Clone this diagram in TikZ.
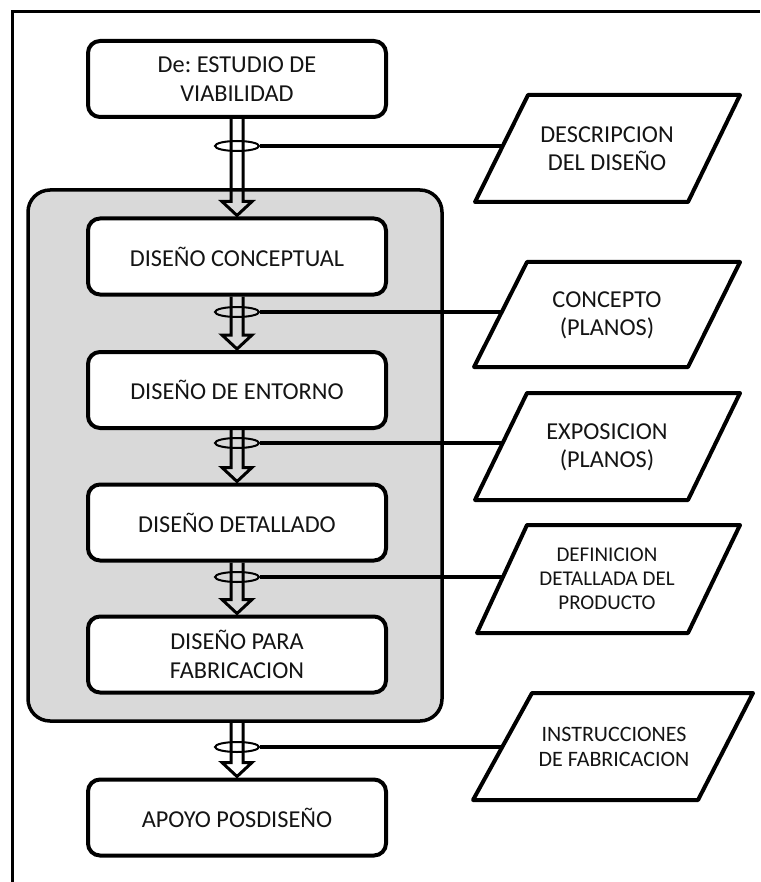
\documentclass[tikz,border=0pt]{standalone}
\usepackage{fontspec}
\setmainfont{Carlito}
\usetikzlibrary{shapes.geometric,calc}
\definecolor{panelgray}{HTML}{D9D9D9}
\definecolor{ink}{HTML}{141414}
\frenchspacing
\begin{document}
\begin{tikzpicture}[x=1pt,y=-1pt,
  box/.style={draw, line width=4pt, rounded corners=12pt, fill=white,
    minimum width=298pt, minimum height=76pt, inner sep=0pt, align=center,
    text=ink, font=\fontsize{24.3}{28.5}\selectfont},
  panelbox/.style={draw, line width=3.5pt, rounded corners=22pt, fill=panelgray,
    minimum width=414pt, minimum height=531pt, inner sep=0pt},
  para/.style={draw, line width=4pt, line join=round, fill=white},
  paratext/.style={align=center, inner sep=0pt, text=ink, font=\fontsize{24.3}{28}\selectfont},
  ring/.style={ellipse, draw, line width=2pt, minimum width=44pt, minimum height=10pt, inner sep=0pt},
  conn/.style={line width=3.5pt},
  harrow/.style={line width=3pt, line join=miter,
    to path={([xshift=-6pt]\tikztostart) -- ([xshift=-6pt,yshift=15pt]\tikztotarget)
      -- ([xshift=-15pt,yshift=15pt]\tikztotarget) -- ([yshift=1pt]\tikztotarget)
      -- ([xshift=15pt,yshift=15pt]\tikztotarget) -- ([xshift=6pt,yshift=15pt]\tikztotarget)
      -- ([xshift=6pt]\tikztostart)}}
]
\useasboundingbox (0,0) rectangle (760,882);
% outer frame
\draw[line width=3pt] (12,882) -- (12,12) -- (760,12);

% panel
\node[panelbox] (panel) at (235,455.5) {};

% boxes
\node[box] (b1) at (237,79) {De: ESTUDIO DE\\VIABILIDAD};
\node[box] (b2) at (237,256.5) {DISEÑO CONCEPTUAL};
\node[box] (b3) at (237,390) {DISEÑO DE ENTORNO};
\node[box] (b4) at (237,522.5) {DISEÑO DETALLADO};
\node[box] (b5) at (237,654.5) {DISEÑO PARA\\FABRICACION};
\node[box] (b6) at (237,817.5) {APOYO POSDISEÑO};

% hollow arrows
\coordinate (pb) at (panel.south -| b6.north);
\draw[harrow] (b1.south) to (b2.north);
\draw[harrow] (b2.south) to (b3.north);
\draw[harrow] (b3.south) to (b4.north);
\draw[harrow] (b4.south) to (b5.north);
\draw[harrow] (pb) to (b6.north);

% rings
\node[ring] (e1) at (237,146) {};
\node[ring] (e2) at (237,312) {};
\node[ring] (e3) at (237,443) {};
\node[ring] (e4) at (237,577) {};
\node[ring] (e5) at (237,747) {};

% parallelograms
\draw[para] (475,202) -- (528,95) -- (740,95) -- (688,202) -- cycle;
\draw[para] (474,367) -- (527,262) -- (740,262) -- (688,367) -- cycle;
\draw[para] (475,500) -- (527,393) -- (740,393) -- (688,500) -- cycle;
\draw[para] (477,633) -- (527,525) -- (740,525) -- (688,633) -- cycle;
\draw[para] (473,800) -- (532,693) -- (753,693) -- (698,800) -- cycle;

\node[paratext] (p1) at (607,149) {DESCRIPCION\\DEL DISEÑO};
\node[paratext] (p2) at (607,315) {CONCEPTO\\(PLANOS)};
\node[paratext] (p3) at (607,447) {EXPOSICION\\(PLANOS)};
\node[paratext, font=\fontsize{21}{24}\selectfont] (p4) at (607,579) {DEFINICION\\DETALLADA DEL\\PRODUCTO};
\node[paratext, font=\fontsize{22}{25}\selectfont] (p5) at (614,746.5) {INSTRUCCIONES\\DE FABRICACION};

% connector ends on the parallelograms' left sides
\coordinate (c1) at (502.7,146);
\coordinate (c2) at (502.3,312);
\coordinate (c3) at (502.7,443);
\coordinate (c4) at (502.9,577);
\coordinate (c5) at (502.2,747);

\draw[conn] (e1.east) -- (c1);
\draw[conn] (e2.east) -- (c2);
\draw[conn] (e3.east) -- (c3);
\draw[conn] (e4.east) -- (c4);
\draw[conn] (e5.east) -- (c5);
\end{tikzpicture}
\end{document}
